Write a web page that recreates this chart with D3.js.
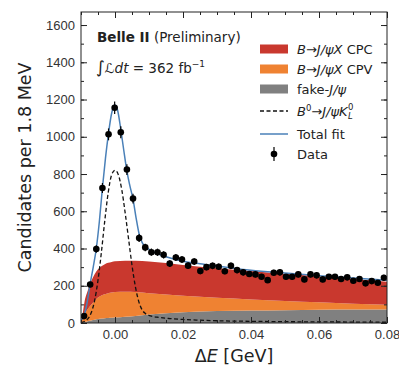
<!DOCTYPE html>
<html>
<head>
<meta charset="utf-8">
<script src="https://cdn.jsdelivr.net/npm/d3@7"></script>
<style>
  body { margin: 0; background: #fff; }
  svg { font-family: "DejaVu Sans", sans-serif; }
</style>
</head>
<body>
<svg width="399" height="366"></svg>
<script>
// bin centres (1.8 MeV bins) and counts
const binCenters = d3.range(50).map(i => -0.0091 + i * 0.0018)
const counts = [37, 207, 397, 725, 1013, 1156, 1024, 824, 668, 456,
  406, 380, 380, 366, 319, 352, 341, 308, 330, 279,
  300, 307, 302, 278, 307, 284, 272, 263, 261, 248,
  230, 270, 272, 248, 248, 261, 234, 261, 256, 234,
  248, 248, 236, 245, 227, 236, 213, 225, 216, 243]

// stacked fit components
const dEfit = [-0.0100, -0.0095, -0.0090, -0.0080, -0.0070, -0.0060, -0.0050, -0.0040, -0.0030, -0.0020, -0.0010,
  0.0000, 0.0030, 0.0060, 0.0100, 0.0200, 0.0300, 0.0400, 0.0500, 0.0600, 0.0700, 0.0800]
const fakeJpsi = [0, 2, 5, 10, 14, 18, 21, 24, 26, 27, 28, 29, 33, 38, 45, 58, 64, 67, 69, 71, 72, 73]
const cpv = [0, 18, 40, 65, 84, 102, 116, 124, 129, 133, 136, 138, 135, 128, 115, 88, 71, 59, 49, 40, 32, 25]
const cpc = [0, 30, 65, 100, 127, 142, 151, 157, 161, 163, 164, 164, 166, 168, 170, 166, 159, 153, 146, 139, 132, 124]

// signal B0 -> J/psi KL (dashed)
const dEsig = [-0.0100, -0.0090, -0.0080, -0.0070, -0.0060, -0.0050, -0.0040, -0.0030, -0.0020, -0.0010, 0.0000,
  0.0010, 0.0020, 0.0030, 0.0040, 0.0050, 0.0060, 0.0070, 0.0080, 0.0090, 0.0105, 0.0130, 0.0160, 0.0200,
  0.0250, 0.0300, 0.0400, 0.0500, 0.0600, 0.0800]
const signal = [2, 8, 22, 55, 120, 230, 380, 550, 700, 795, 820,
  795, 715, 590, 450, 310, 195, 115, 70, 50, 38, 30, 24, 19,
  15, 12, 9, 7, 6, 4]

// total fit (blue)
const dEtot = [-0.0100, -0.0091, -0.0082, -0.0073, -0.0064, -0.0055, -0.0046, -0.0037, -0.0028, -0.0019, -0.0010,
  -0.0001, 0.0008, 0.0017, 0.0026, 0.0035, 0.0044, 0.0053, 0.0062, 0.0071, 0.0080, 0.0090, 0.0100, 0.0120,
  0.0150, 0.0200, 0.0250, 0.0300, 0.0400, 0.0500, 0.0600, 0.0700, 0.0800]
const totalFit = [15, 40, 110, 212, 300, 400, 545, 725, 885, 1020, 1125,
  1172, 1140, 1040, 925, 815, 735, 665, 565, 478, 432, 410, 396, 376,
  356, 332, 318, 306, 283, 268, 254, 241, 229]

const xTicks = [0.00, 0.02, 0.04, 0.06, 0.08]
const yTicks = [0, 200, 400, 600, 800, 1000, 1200, 1400, 1600]

const colors = {cpc: '#c9382e', cpv: '#ef8232', fake: '#808080', total: '#4a80b8'}

// dimensions
const marginLeft = 81
const marginTop = 12
const chartWidth = 306
const chartHeight = 311

const svg = d3.select('svg')
const g = svg.append('g').attr('transform', `translate(${marginLeft}, ${marginTop})`)

const xScale = d3.scaleLinear([-0.01, 0.08], [0, chartWidth])
const yScale = d3.scaleLinear([0, 1670], [chartHeight, 0])

g.append('clipPath').attr('id', 'clip')
  .append('rect').attr('width', chartWidth).attr('height', chartHeight)

const plot = g.append('g').attr('clip-path', 'url(#clip)')

// stacked areas
const rows = dEfit.map((x, i) => ({x, fake: fakeJpsi[i], cpv: cpv[i], cpc: cpc[i]}))
const stack = d3.stack().keys(['fake', 'cpv', 'cpc'])(rows)
const area = d3.area()
  .x(d => xScale(d.data.x))
  .y0(d => yScale(d[0]))
  .y1(d => yScale(d[1]))
  .curve(d3.curveMonotoneX)

plot.selectAll('path.comp')
  .data(stack)
  .join('path')
    .attr('class', 'comp')
    .attr('fill', d => colors[d.key])
    .attr('d', area)

// signal dashed
const fitLine = d3.line()
  .x(d => xScale(d[0]))
  .y(d => yScale(d[1]))
  .curve(d3.curveMonotoneX)

plot.append('path')
  .attr('d', fitLine(dEsig.map((x, i) => [x, signal[i]])))
  .attr('fill', 'none')
  .attr('stroke', '#111')
  .attr('stroke-width', 1.3)
  .attr('stroke-dasharray', '4,2.5')

// total fit
plot.append('path')
  .attr('d', fitLine(dEtot.map((x, i) => [x, totalFit[i]])))
  .attr('fill', 'none')
  .attr('stroke', colors.total)
  .attr('stroke-width', 1.5)

// data points
const pts = plot.selectAll('g.pt')
  .data(binCenters.map((x, i) => ({x, n: counts[i]})))
  .join('g')
    .attr('class', 'pt')

pts.append('line')
  .attr('x1', d => xScale(d.x)).attr('x2', d => xScale(d.x))
  .attr('y1', d => yScale(d.n + Math.sqrt(d.n)))
  .attr('y2', d => yScale(d.n - Math.sqrt(d.n)))
  .attr('stroke', '#000').attr('stroke-width', 1.2)

pts.append('circle')
  .attr('cx', d => xScale(d.x))
  .attr('cy', d => yScale(d.n))
  .attr('r', 3.3)
  .attr('fill', '#000')

// axes with inward ticks on all sides
const xMinor = d3.range(-0.01, 0.0801, 0.005)
const yMinor = d3.range(0, 1670, 100)

function styleAxis(sel) {
  sel.select('.domain').remove()
  sel.selectAll('line').attr('stroke', '#222')
  sel.selectAll('text').attr('fill', '#333').attr('font-size', '13px')
}

g.append('g').attr('transform', `translate(0, ${chartHeight})`)
  .call(d3.axisBottom(xScale).tickValues(xTicks).tickFormat(d3.format('.2f')).tickSize(-6).tickPadding(7))
  .call(styleAxis)
g.append('g').attr('transform', `translate(0, ${chartHeight})`)
  .call(d3.axisBottom(xScale).tickValues(xMinor).tickFormat('').tickSize(-3))
  .call(styleAxis)
g.append('g')
  .call(d3.axisTop(xScale).tickValues(xTicks).tickFormat('').tickSize(-6))
  .call(styleAxis)
g.append('g')
  .call(d3.axisTop(xScale).tickValues(xMinor).tickFormat('').tickSize(-3))
  .call(styleAxis)

g.append('g')
  .call(d3.axisLeft(yScale).tickValues(yTicks).tickFormat(d3.format('d')).tickSize(-6).tickPadding(6))
  .call(styleAxis)
g.append('g')
  .call(d3.axisLeft(yScale).tickValues(yMinor).tickFormat('').tickSize(-3))
  .call(styleAxis)
g.append('g').attr('transform', `translate(${chartWidth}, 0)`)
  .call(d3.axisRight(yScale).tickValues(yTicks).tickFormat('').tickSize(-6))
  .call(styleAxis)
g.append('g').attr('transform', `translate(${chartWidth}, 0)`)
  .call(d3.axisRight(yScale).tickValues(yMinor).tickFormat('').tickSize(-3))
  .call(styleAxis)

g.append('rect')
  .attr('width', chartWidth).attr('height', chartHeight)
  .attr('fill', 'none').attr('stroke', '#222').attr('stroke-width', 1)

// axis titles
svg.append('text')
  .attr('transform', `translate(31, ${marginTop + chartHeight / 2}) rotate(-90)`)
  .attr('text-anchor', 'middle')
  .attr('font-size', '17.5px')
  .attr('fill', '#222')
  .text('Candidates per 1.8 MeV')

const xt = svg.append('text')
  .attr('x', 234).attr('y', 362)
  .attr('text-anchor', 'middle')
  .attr('font-size', '17.5px')
  .attr('fill', '#222')
xt.append('tspan').text('Δ')
xt.append('tspan').attr('font-style', 'italic').text('E')
xt.append('tspan').text(' [GeV]')

// experiment labels
const t1 = svg.append('text').attr('x', 97).attr('y', 42).attr('font-size', '13.5px').attr('fill', '#222')
t1.append('tspan').attr('font-weight', 'bold').text('Belle II')
t1.append('tspan').text(' (Preliminary)')

const t2 = svg.append('text').attr('x', 96).attr('y', 73).attr('font-size', '13.5px').attr('fill', '#222')
t2.append('tspan').attr('font-size', '17px').text('∫')
t2.append('tspan').attr('font-style', 'italic').text('ℒdt')
t2.append('tspan').text(' = 362 fb')
t2.append('tspan').attr('font-size', '9px').attr('dy', -6).text('−1')

// legend
const legend = svg.append('g').attr('font-size', '13px').attr('fill', '#222')
const legX = 260
const legTextX = 297

function addParts(sel, parts) {
  parts.forEach(p => {
    const ts = sel.append('tspan').text(p.t)
    if (p.i) ts.attr('font-style', 'italic')
    if (p.dy) ts.attr('dy', p.dy)
    if (p.fs) ts.attr('font-size', p.fs)
  })
}

const patchRows = [
  {key: 'cpc', y: 49, label: [{t: 'B', i: 1}, {t: '→'}, {t: 'J/ψX', i: 1}, {t: ' CPC'}]},
  {key: 'cpv', y: 69, label: [{t: 'B', i: 1}, {t: '→'}, {t: 'J/ψX', i: 1}, {t: ' CPV'}]},
  {key: 'fake', y: 89, label: [{t: 'fake-'}, {t: 'J/ψ', i: 1}]}
]
patchRows.forEach(r => {
  legend.append('rect').attr('x', legX).attr('y', r.y - 4.5).attr('width', 28).attr('height', 9)
    .attr('fill', colors[r.key])
  const t = legend.append('text').attr('x', legTextX).attr('y', r.y + 4.5)
  addParts(t, r.label)
})

// B0 -> J/psi KL0 label: sup and sub stacked after K
legend.append('line').attr('x1', legX).attr('x2', legX + 28).attr('y1', 111).attr('y2', 111)
  .attr('stroke', '#111').attr('stroke-width', 1.3).attr('stroke-dasharray', '4,2.5')
const tb = legend.append('text').attr('x', legTextX).attr('y', 115.5)
addParts(tb, [{t: 'B', i: 1}, {t: '0', fs: '8.5px', dy: -5}, {t: '→', dy: 5}, {t: 'J/ψK', i: 1}])
const bw = tb.node().getComputedTextLength()
legend.append('text').attr('x', legTextX + bw + 0.5).attr('y', 110).attr('font-size', '8.5px').text('0')
legend.append('text').attr('x', legTextX + bw + 0.5).attr('y', 119).attr('font-size', '8.5px')
  .attr('font-style', 'italic').text('L')

legend.append('line').attr('x1', legX).attr('x2', legX + 28).attr('y1', 134).attr('y2', 134)
  .attr('stroke', colors.total).attr('stroke-width', 1.5)
legend.append('text').attr('x', legTextX).attr('y', 138.5).text('Total fit')

legend.append('line').attr('x1', legX + 14).attr('x2', legX + 14).attr('y1', 147).attr('y2', 161)
  .attr('stroke', '#000').attr('stroke-width', 1.2)
legend.append('circle').attr('cx', legX + 14).attr('cy', 154).attr('r', 3.3).attr('fill', '#000')
legend.append('text').attr('x', legTextX).attr('y', 158.5).text('Data')
</script>
</body>
</html>
